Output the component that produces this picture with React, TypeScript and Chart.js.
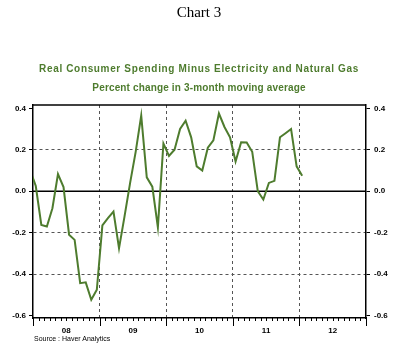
import React, { useEffect, useRef } from 'react';
import { Chart, registerables } from 'chart.js';

Chart.register(...registerables);

// Monthly values, Dec 2007 .. Jan 2012 (percent change, 3-month moving average)
const startLabel = '2007-12';
const values2007 = [0.10];
const values2008 = [0.025, -0.163, -0.17, -0.082, 0.083, 0.02, -0.21, -0.235, -0.444, -0.44, -0.524, -0.476];
const values2009 = [-0.165, -0.13, -0.098, -0.275, -0.12, 0.04, 0.19, 0.365, 0.067, 0.022, -0.174, 0.23];
const values2010 = [0.17, 0.2, 0.3, 0.34, 0.26, 0.12, 0.1, 0.21, 0.245, 0.375, 0.31, 0.26];
const values2011 = [0.143, 0.236, 0.235, 0.19, 0.0, -0.04, 0.04, 0.05, 0.26, 0.28, 0.3, 0.12];
const values2012 = [0.075];

const yearLabels = ['08', '09', '10', '11', '12'];
const yTicks = [-0.6, -0.4, -0.2, 0.0, 0.2, 0.4];
const dashedY = [-0.4, -0.2, 0.2];

const title = 'Real Consumer Spending Minus Electricity and Natural Gas';
const subtitle = 'Percent change in 3-month moving average';

const allValues = [...values2007, ...values2008, ...values2009, ...values2010, ...values2011, ...values2012];
// x in months since Jan 2008; each monthly value sits mid-month; first value is Dec 2007
const points = allValues.map((v, i) => ({ x: i - 1 + 0.5, y: v }));

const GREEN = '#4e7c2e';
const FONT = '"Liberation Sans", Arial, sans-serif';

const framePlugin = {
  id: 'frame',
  beforeDatasetsDraw(chart: any) {
    const { ctx, chartArea, scales } = chart;
    const { left, right, top, bottom } = chartArea;
    ctx.save();
    ctx.strokeStyle = '#000';
    ctx.lineWidth = 1.5;
    const y0 = scales.y.getPixelForValue(0);
    ctx.beginPath();
    ctx.moveTo(left, y0);
    ctx.lineTo(right, y0);
    ctx.stroke();
    ctx.beginPath();
    ctx.moveTo(left, top);
    ctx.lineTo(right, top);
    ctx.stroke();
    ctx.lineWidth = 1;
    const xs = scales.x;
    for (let m = 0; m <= 60; m++) {
      const px = Math.round(xs.getPixelForValue(m)) + 0.5;
      const len = m % 12 === 0 ? 8 : 3;
      ctx.beginPath();
      ctx.moveTo(px, bottom);
      ctx.lineTo(px, bottom + len);
      ctx.stroke();
    }
    ctx.restore();
  },
};

export default function App() {
  const ref = useRef<HTMLCanvasElement>(null);
  useEffect(() => {
    const tickFont = { family: FONT, size: 8, weight: 'bold' as const };
    const yAxis = (pos: 'left' | 'right', width: number, onArea: boolean, pad: number) => ({
      type: 'linear' as const,
      position: pos,
      min: -0.612,
      max: 0.416,
      afterBuildTicks: (s: any) => {
        s.ticks = yTicks.map((v) => ({ value: v }));
      },
      afterFit: (s: any) => {
        s.width = width;
      },
      ticks: {
        padding: pad,
        font: tickFont,
        color: '#000',
        callback: (v: any) => Number(v).toFixed(1),
      },
      grid: {
        drawOnChartArea: onArea,
        drawTicks: true,
        tickLength: 4,
        tickColor: '#000',
        lineWidth: 1,
        color: (c: any) =>
          c.tick && dashedY.some((d) => Math.abs(d - c.tick.value) < 1e-6) ? '#555' : 'rgba(0,0,0,0)',
      },
      border: { display: true, color: '#000', width: 1.5, dash: [3, 3] },
    });
    const chart = new Chart(ref.current!, {
      type: 'line',
      data: {
        datasets: [
          {
            label: startLabel,
            data: points,
            borderColor: GREEN,
            borderWidth: 2,
            pointRadius: 0,
            tension: 0,
            fill: false,
          },
        ],
      },
      options: {
        responsive: false,
        animation: false,
        devicePixelRatio: 1,
        layout: { padding: { top: 105, left: 0, right: 0, bottom: 0 } },
        scales: {
          x: {
            type: 'linear',
            min: 0,
            max: 60,
            afterBuildTicks: (s: any) => {
              s.ticks = Array.from({ length: 61 }, (_, i) => ({ value: i }));
            },
            afterFit: (s: any) => {
              s.height = 30;
            },
            ticks: {
              autoSkip: false,
              maxRotation: 0,
              minRotation: 0,
              padding: 8,
              font: tickFont,
              color: '#000',
              callback: (v: any) => {
                const n = Number(v);
                return n % 12 === 6 ? yearLabels[(n - 6) / 12] : '';
              },
            },
            grid: {
              drawTicks: false,
              lineWidth: 1,
              color: (c: any) => {
                const v = c.tick ? c.tick.value : -1;
                return v > 0 && v < 60 && v % 12 === 0 ? '#555' : 'rgba(0,0,0,0)';
              },
            },
            border: { display: true, color: '#000', width: 1.5, dash: [3, 3] },
          },
          y: yAxis('left', 33, true, 3),
          y2: yAxis('right', 38, false, 4),
        },
        plugins: {
          legend: { display: false },
          tooltip: { enabled: false },
        },
      },
      plugins: [framePlugin],
    });
    return () => chart.destroy();
  }, []);

  const titleStyle: React.CSSProperties = {
    position: 'absolute',
    left: 0,
    width: 398,
    textAlign: 'center',
    font: `bold 10px/12px ${FONT}`,
    color: GREEN,
    whiteSpace: 'nowrap',
  };

  return (
    <div style={{ position: 'absolute', left: 0, top: 0, width: 404, height: 348, background: '#fff', overflow: 'hidden' }}>
      <canvas ref={ref} width={404} height={348} style={{ position: 'absolute', left: 0, top: 0, width: 404, height: 348 }} />
      <div
        style={{
          position: 'absolute',
          left: 0,
          top: 5,
          width: 398,
          textAlign: 'center',
          font: '15px/15px "Liberation Serif", "Times New Roman", serif',
          color: '#000',
        }}
      >
        Chart 3
      </div>
      <div style={{ ...titleStyle, top: 62.5, letterSpacing: '0.65px' }}>{title}</div>
      <div style={{ ...titleStyle, top: 82, letterSpacing: '0.15px' }}>{subtitle}</div>
      <div
        style={{
          position: 'absolute',
          left: 34,
          top: 335,
          font: '7px "Liberation Sans", Arial, sans-serif',
          color: '#000',
          whiteSpace: 'nowrap',
        }}
      >
        Source : Haver Analytics
      </div>
    </div>
  );
}
